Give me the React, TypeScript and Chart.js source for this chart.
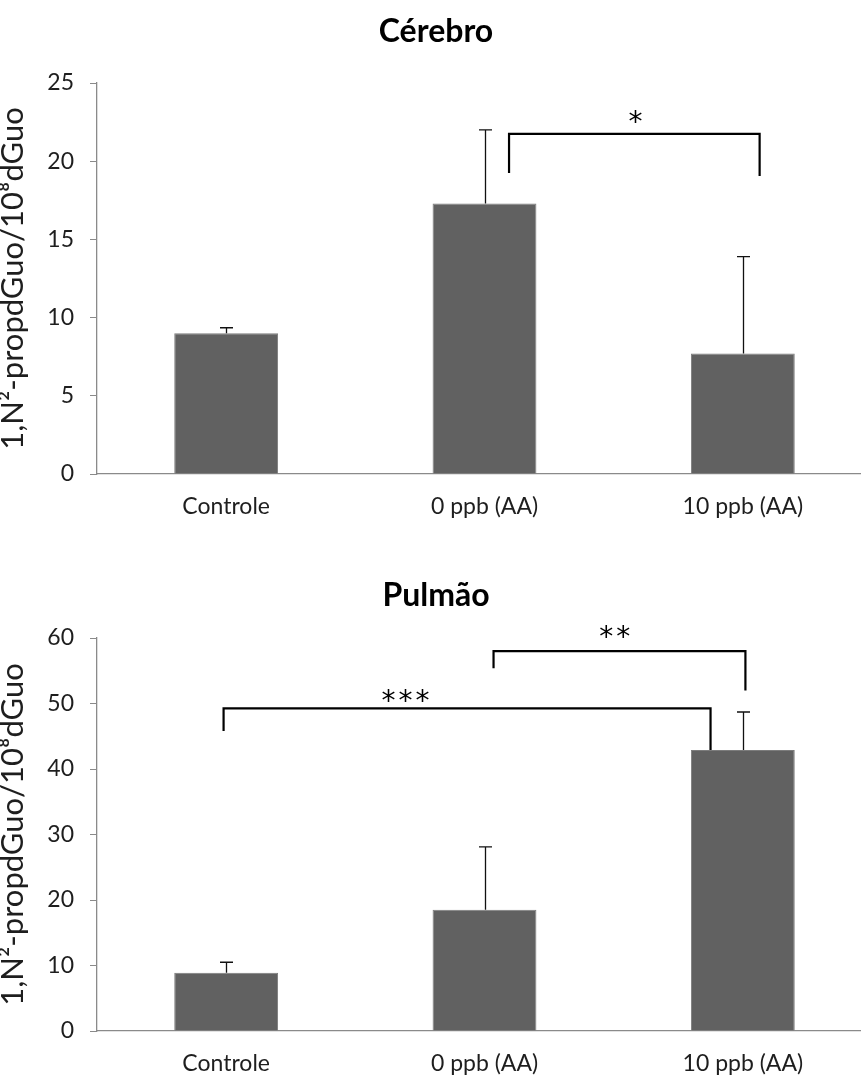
import React, { useEffect, useRef } from "react";
import { Chart, registerables } from "chart.js";

Chart.register(...registerables);

// ---------- data ----------
const categories = ["Controle", "0 ppb (AA)", "10 ppb (AA)"];

const cerebroTitle = "Cérebro";
const cerebroMeans = [9.0, 17.3, 7.7];
const cerebroErrTop = [9.35, 22.0, 13.9];
const cerebroMax = 25;
const cerebroStep = 5;

const pulmaoTitle = "Pulmão";
const pulmaoMeans = [8.9, 18.5, 42.9];
const pulmaoErrTop = [10.5, 28.1, 48.7];
const pulmaoMax = 60;
const pulmaoStep = 10;

const yAxisTitle = "1,N²-propdGuo/10⁸dGuo";

// significance brackets, in category-index / value units
// [xLeft, xRight, yBar, yLeftEnd, yRightEnd, label, xLabel, yLabel]
const cerebroBrackets = [
  [1.095, 2.065, 21.75, 19.25, 19.05, "*", 1.59, 22.8],
];
const pulmaoBrackets = [
  [1.035, 2.01, 58.0, 55.4, 52.0, "**", 1.51, 60.8],
  [-0.01, 1.875, 49.25, 45.8, 42.9, "***", 0.7, 51.0],
];

const FONT = "Lato, 'Open Sans', sans-serif";
const STAR_FONT = "'DejaVu Sans', sans-serif";
const TEXT = "#1e1e1e";
const AXIS = "#8a8a8a";
const CANVAS_W = 872;

const overlayPlugin = {
  id: "overlay",
  afterDatasetsDraw(chart: any, _args: any, opts: any) {
    const { ctx } = chart;
    const x = chart.scales.x;
    const y = chart.scales.y;
    const meta = chart.getDatasetMeta(0);
    ctx.save();
    // error bars (upper only)
    ctx.strokeStyle = "#111";
    ctx.lineWidth = 1.3;
    (opts.errTop || []).forEach((v: number, i: number) => {
      const el = meta.data[i];
      const px = Math.round(el.x) + 0.5;
      const y0 = y.getPixelForValue(opts.means[i]);
      const y1 = y.getPixelForValue(v);
      ctx.beginPath();
      ctx.moveTo(px, y0);
      ctx.lineTo(px, y1);
      ctx.moveTo(px - 6.5, y1);
      ctx.lineTo(px + 6.5, y1);
      ctx.stroke();
    });
    // brackets
    ctx.lineWidth = 2.2;
    ctx.strokeStyle = "#000";
    (opts.brackets || []).forEach((b: any[]) => {
      const [xl, xr, yb, yle, yre, label, xlab, ylab] = b;
      const pxl = x.getPixelForValue(xl);
      const pxr = x.getPixelForValue(xr);
      const pyb = y.getPixelForValue(yb);
      ctx.beginPath();
      ctx.moveTo(pxl, y.getPixelForValue(yle));
      ctx.lineTo(pxl, pyb);
      ctx.lineTo(pxr, pyb);
      ctx.lineTo(pxr, y.getPixelForValue(yre));
      ctx.stroke();
      ctx.fillStyle = "#000";
      ctx.font = `28px ${STAR_FONT}`;
      try {
        (ctx as any).letterSpacing = "3px";
      } catch (e) {}
      ctx.textAlign = "center";
      ctx.textBaseline = "middle";
      ctx.fillText(label, x.getPixelForValue(xlab), y.getPixelForValue(ylab) + 6);
      try {
        (ctx as any).letterSpacing = "0px";
      } catch (e) {}
    });
    ctx.restore();
  },
};

function makeConfig(
  title: string,
  means: number[],
  errTop: number[],
  max: number,
  step: number,
  brackets: any[],
  titlePad: { top: number; bottom: number },
  xHeight: number
): any {
  return {
    type: "bar",
    data: {
      labels: categories,
      datasets: [
        {
          data: means,
          backgroundColor: "#616161",
          borderColor: "#7c7c7c",
          borderWidth: 1,
          categoryPercentage: 1,
          barPercentage: 0.402,
        },
      ],
    },
    options: {
      responsive: false,
      animation: false,
      layout: { padding: { left: 0, right: 0, top: 0, bottom: 0 } },
      plugins: {
        legend: { display: false },
        tooltip: { enabled: false },
        title: {
          display: true,
          text: title,
          color: "#000",
          font: { family: FONT, size: 32, weight: "bold", lineHeight: 1.2 },
          padding: titlePad,
        },
        overlay: { means, errTop, brackets },
      },
      scales: {
        x: {
          grid: { display: false, drawTicks: false },
          border: { display: true, color: AXIS, width: 1.3 },
          ticks: { color: TEXT, font: { family: FONT, size: 23 }, padding: 19 },
          afterFit(scale: any) {
            scale.height = xHeight;
          },
        },
        y: {
          min: 0,
          max,
          ticks: { stepSize: step, color: TEXT, font: { family: FONT, size: 23 }, padding: 16 },
          grid: { display: true, drawOnChartArea: false, drawTicks: true, tickLength: 7, color: AXIS },
          border: { display: true, color: AXIS, width: 1.3 },
          title: {
            display: true,
            text: yAxisTitle,
            color: TEXT,
            font: { family: FONT, size: 31, lineHeight: 1.1 },
            padding: { top: -4, bottom: 0 },
          },
          afterFit(scale: any) {
            scale.width = 97;
          },
        },
      },
    },
    plugins: [overlayPlugin],
  };
}

function BarChart(props: { config: any; height: number }) {
  const ref = useRef<HTMLCanvasElement | null>(null);
  useEffect(() => {
    if (!ref.current) return;
    const chart = new Chart(ref.current, props.config);
    return () => chart.destroy();
  }, []);
  return <canvas ref={ref} width={CANVAS_W} height={props.height} style={{ display: "block" }} />;
}

export default function App() {
  useEffect(() => {
    document.body.style.margin = "0";
    document.body.style.background = "#fff";
    document.body.style.overflow = "hidden";
  }, []);
  const top = makeConfig(
    cerebroTitle,
    cerebroMeans,
    cerebroErrTop,
    cerebroMax,
    cerebroStep,
    cerebroBrackets,
    { top: 12, bottom: 32.6 },
    71
  );
  const bottom = makeConfig(
    pulmaoTitle,
    pulmaoMeans,
    pulmaoErrTop,
    pulmaoMax,
    pulmaoStep,
    pulmaoBrackets,
    { top: 31, bottom: 23.6 },
    46
  );
  return (
    <div style={{ width: 861, overflow: "hidden", background: "#fff" }}>
      <BarChart config={top} height={545} />
      <BarChart config={bottom} height={532} />
    </div>
  );
}
